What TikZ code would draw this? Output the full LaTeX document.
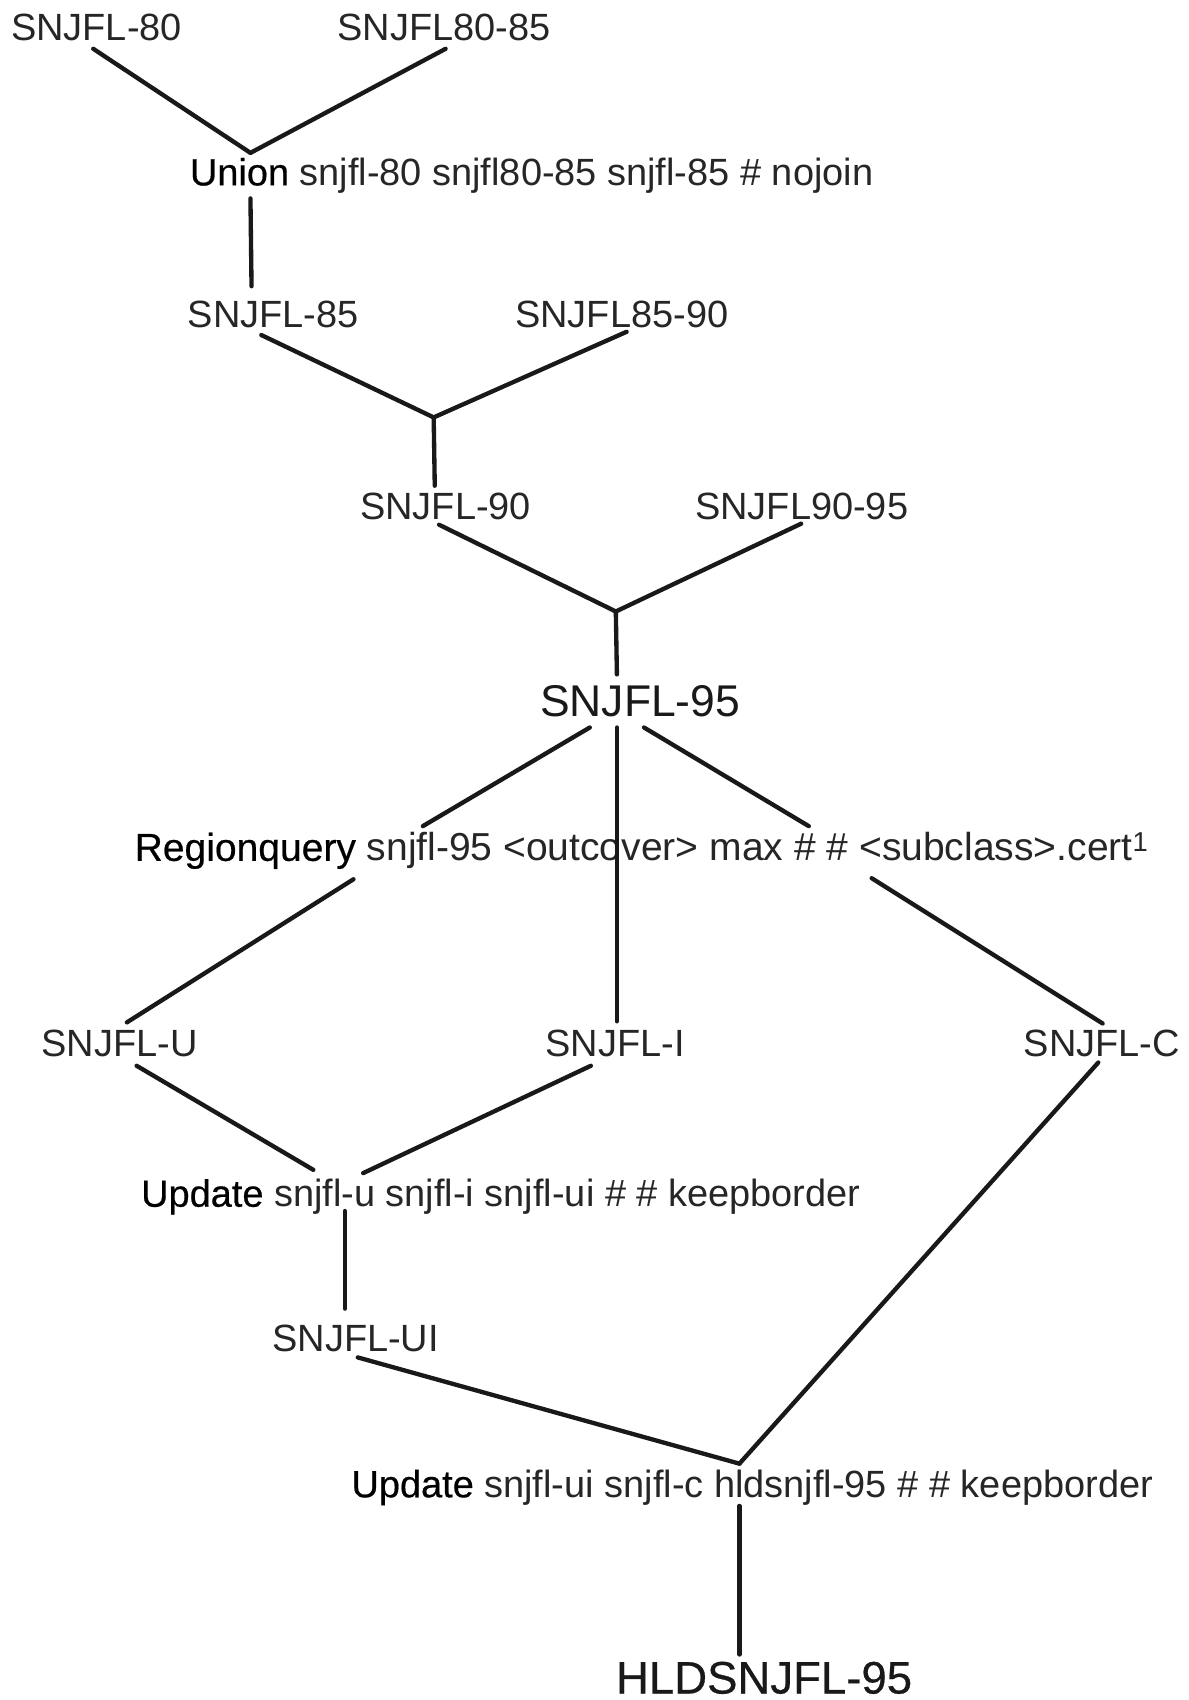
\documentclass[tikz,border=0pt]{standalone}
\usepackage{fontspec}
\setmainfont{Liberation Sans}
\newfontfamily\cmdfont{Liberation Sans}[FakeBold=0.5]
\usetikzlibrary{calc}
\begin{document}
\begin{tikzpicture}[x=1pt,y=-1pt,
  lbl/.style={inner sep=0pt,anchor=base west,text=black!85,font=\fontsize{35}{42}\selectfont},
  big/.style={inner sep=0pt,anchor=base west,text=black!90,font=\fontsize{41}{48}\selectfont},
  bigger/.style={inner sep=0pt,anchor=base west,text=black!90,font=\cmdfont\fontsize{42}{48}\selectfont},
  cmdline/.style={inner sep=0pt,anchor=base west,text=black!85,font=\fontsize{35}{42}\selectfont},
  conn/.style={line width=4pt,black!90,line cap=round,line join=round}]
\useasboundingbox (0,0) rectangle (1096,1568);
\fill[white] (0,0) rectangle (1096,1568);

% nodes
\node[lbl] (n80)   at (10,37)  {SNJFL-80};
\node[lbl] (n8085) at (311,37) {SNJFL80-85};
\node[cmdline] (un) at (175,171) {{\cmdfont\color{black}Union} snjfl-80 snjfl80-85 snjfl-85 \# nojoin};
\node[lbl] (n85)   at (173,302) {SNJFL-85};
\node[lbl] (n8590) at (475,302) {SNJFL85-90};
\node[lbl] (n90)   at (332,479) {SNJFL-90};
\node[lbl] (n9095) at (641,479) {SNJFL90-95};
\node[big] (n95)   at (498,661) {SNJFL-95};
\node[cmdline,font=\fontsize{36}{42}\selectfont] (rq) at (124,794) {{\cmdfont\color{black}Regionquery} snjfl-95 <outcover> max \# \# <subclass>.cert\textsuperscript{1}};
\node[lbl] (nU) at (38,974)  {SNJFL-U};
\node[lbl] (nI) at (503,974) {SNJFL-I};
\node[lbl] (nC) at (944,974) {SNJFL-C};
\node[cmdline] (up1) at (130,1113) {{\cmdfont\color{black}Update} snjfl-u snjfl-i snjfl-ui \# \# keepborder};
\node[lbl] (nUI) at (251,1247) {SNJFL-UI};
\node[cmdline] (up2) at (324,1381) {{\cmdfont\color{black}Update} snjfl-ui snjfl-c hldsnjfl-95 \# \# keepborder};
\node[bigger] (hld) at (568,1562) {HLDSNJFL-95};

% junctions
\coordinate (j1) at ($(un.base west)+(56,-30)$);
\coordinate (j2) at ($(n90.base west)+(68,-94)$);
\coordinate (j3) at ($(n95.base west)+(70,-97)$);
\coordinate (j4) at ($(up2.base west)+(358,-31)$);

% connectors
\draw[conn] ($(n80.base west)+(76,8)$) -- (j1);
\draw[conn] ($(n8085.base west)+(100,8)$) -- (j1);
\draw[conn] ($(un.base west)+(56,12)$) -- ($(n85.base west)+(59,-38)$);
\draw[conn] ($(n85.base west)+(68,7)$) -- (j2);
\draw[conn] ($(n8590.base west)+(103,4)$) -- (j2);
\draw[conn] (j2) -- ($(n90.base west)+(69,-31)$);
\draw[conn] ($(n90.base west)+(73,5)$) -- (j3);
\draw[conn] ($(n9095.base west)+(98,4)$) -- (j3);
\draw[conn] (j3) -- ($(n95.base west)+(71,-39)$);
\draw[conn] ($(n95.base west)+(46,10)$) -- ($(rq.base west)+(266,-32)$);
\draw[conn] ($(n95.base west)+(71,10)$) -- ($(nI.base west)+(66,-32)$);
\draw[conn] ($(n95.base west)+(96,10)$) -- ($(rq.base west)+(622,-32)$);
\draw[conn] ($(rq.base west)+(202,17)$) -- ($(nU.base west)+(79,-31)$);
\draw[conn] ($(rq.base west)+(680,16)$) -- ($(nC.base west)+(73,-30)$);
\draw[conn] ($(nU.base west)+(88,9)$) -- ($(up1.base west)+(159,-34)$);
\draw[conn] ($(nI.base west)+(42,9)$) -- ($(up1.base west)+(205,-31)$);
\draw[conn] ($(up1.base west)+(188,4)$) -- ($(nUI.base west)+(67,-40)$);
\draw[conn] ($(nUI.base west)+(79,5)$) -- (j4);
\draw[conn] ($(nC.base west)+(69,6)$) -- (j4);
\draw[conn] ($(up2.base west)+(358,8)$) -- ($(hld.base west)+(114,-36)$);
\end{tikzpicture}
\end{document}
